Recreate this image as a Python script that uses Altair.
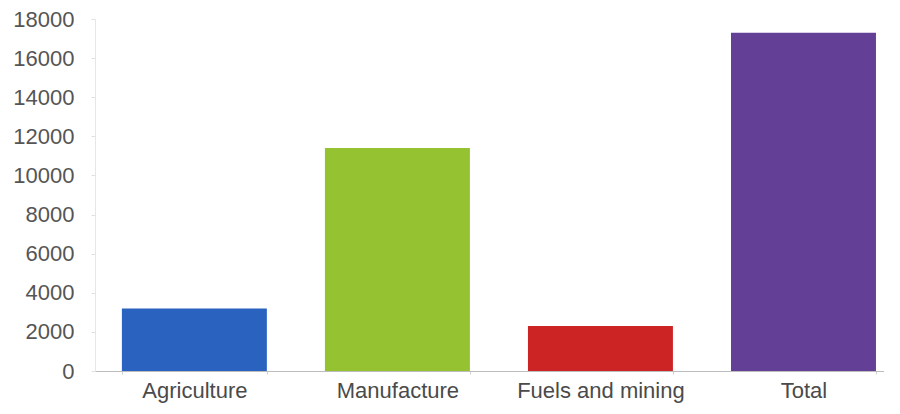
import altair as alt
import pandas as pd

categories = ["Agriculture", "Manufacture", "Fuels and mining", "Total"]
values = [3200, 11400, 2300, 17300]
colors = ["#2a62c0", "#94c231", "#cc2424", "#643f96"]
y_ticks = [0, 2000, 4000, 6000, 8000, 10000, 12000, 14000, 16000, 18000]

df = pd.DataFrame({"category": categories, "value": values})

chart = alt.Chart(df).mark_bar().encode(
    x=alt.X(
        "category:N",
        sort=categories,
        scale=alt.Scale(paddingInner=0.286, paddingOuter=0.086, align=0.77),
        axis=alt.Axis(
            title=None, labelAngle=0, labelFont="Liberation Sans", labelFontSize=22,
            labelColor="#4a4a4a", domainColor="#bdbdbd", domainWidth=1,
            ticks=True, tickBand="extent", tickSize=3, tickColor="#d0d0d0",
            labelPadding=6,
        ),
    ),
    y=alt.Y(
        "value:Q",
        scale=alt.Scale(domain=[0, 18000], nice=False),
        axis=alt.Axis(
            values=y_ticks, format="d", title=None, grid=False, labelFont="Liberation Sans",
            labelFontSize=22, labelColor="#555555", domainColor="#e6e6e6",
            tickColor="#e0e0e0", tickSize=4, labelPadding=17,
        ),
    ),
    color=alt.Color("category:N", scale=alt.Scale(domain=categories, range=colors), legend=None),
).properties(
    width=789,
    height=352,
    autosize=alt.AutoSizeParams(type="none"),
    padding={"left": 87, "top": 11, "right": 0, "bottom": 35},
).configure_view(stroke=None)

chart.save("out.html", embed_options={"renderer": "svg", "actions": False})
